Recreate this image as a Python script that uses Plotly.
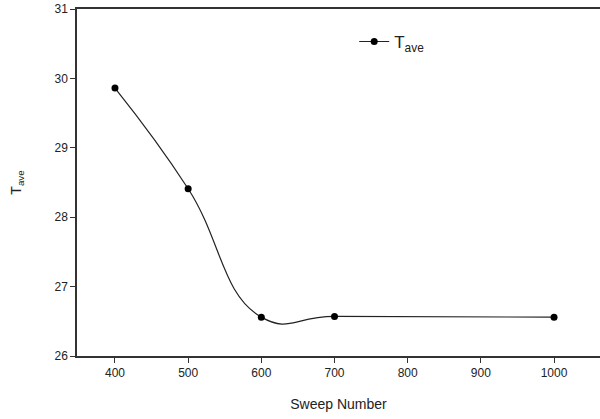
import plotly.graph_objects as go

sweep = [400, 500, 600, 700, 1000]
t_ave = [29.86, 28.41, 26.56, 26.57, 26.56]
x_ticks = [400, 500, 600, 700, 800, 900, 1000]
y_ticks = [26, 27, 28, 29, 30, 31]

fig = go.Figure()
fig.add_trace(go.Scatter(
    x=sweep, y=t_ave, mode="lines+markers",
    name="T<sub>ave</sub>",
    line=dict(color="#222222", width=1.2, shape="spline", smoothing=1.3),
    marker=dict(color="black", size=7),
))

font = "Liberation Sans, Arial, sans-serif"
fig.update_layout(
    width=600, height=419,
    margin=dict(l=77, r=0, t=9, b=63),
    plot_bgcolor="white", paper_bgcolor="white",
    font=dict(family=font, color="#222222"),
    showlegend=True,
    legend=dict(x=0.53, y=0.905, xanchor="left", yanchor="middle",
                bgcolor="rgba(0,0,0,0)", font=dict(size=17, color="#222222")),
    xaxis=dict(range=[348.1, 1062.8], tickvals=x_ticks, ticks="outside",
               ticklen=5, tickwidth=1, tickcolor="#333333",
               showline=True, linecolor="#333333", linewidth=1.5, mirror=True,
               showgrid=False, zeroline=False, tickfont=dict(size=12),
               title=dict(text="Sweep Number", font=dict(size=14), standoff=20)),
    yaxis=dict(range=[26, 31], tickvals=y_ticks, ticks="outside",
               ticklen=5, tickwidth=1, tickcolor="#333333",
               showline=True, linecolor="#333333", linewidth=1.5,
               showgrid=False, zeroline=False, tickfont=dict(size=12),
               title=dict(text="T<sub>ave</sub>", font=dict(size=14), standoff=30)),
)
fig.write_html("out.html")
